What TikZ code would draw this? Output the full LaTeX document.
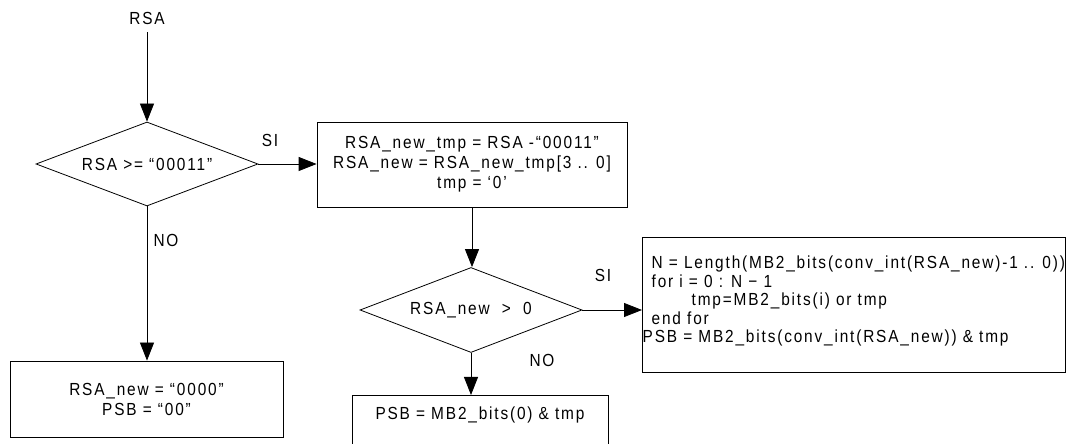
\documentclass[tikz,border=0pt]{standalone}
\usepackage{fontspec}
\setmainfont{Liberation Sans}[FakeStretch=0.88, LetterSpace=10.5]
\usetikzlibrary{shapes.geometric,arrows.meta}
\begin{document}
\begin{tikzpicture}[x=1pt,y=1pt,
  every node/.style={font=\fontsize{17.5}{20}\selectfont},
  flow/.style={draw, line width=0.8pt},
  decision/.style={flow, diamond, aspect=2.6, inner sep=0pt,
    minimum width=222pt, minimum height=84pt},
  stepbox/.style={flow, rectangle, align=center, inner sep=0pt},
  tag/.style={inner sep=0pt},
  link/.style={line width=0.8pt, -{Triangle[length=18pt,width=14pt]}}]
\useasboundingbox (0,0) rectangle (1072,444);

% input and first test
\node[tag, inner ysep=8pt] (rsa) at (147,426) {RSA};
\node[decision] (d1) at (147,280) {RSA >= “00011”};

% subtract and truncate
\node[stepbox, minimum width=310pt, minimum height=85pt] (b1) at (472,279.5)
  {RSA\_new\_tmp = RSA -“00011”\\RSA\_new = RSA\_new\_tmp[3 .. 0]\\tmp = ‘0’};

% second test
\node[decision, minimum height=85pt] (d2) at (471,134) {RSA\_new \ > \ 0};

% loop block
\node[flow, rectangle, anchor=north west, minimum width=423pt, minimum height=135pt,
  inner sep=0pt] (b3) at (642,207) {};
\node[tag, anchor=north west, align=left,
  font=\fontsize{17.5}{18.5}\selectfont] (b3txt) at ([xshift=0.5pt,yshift=-19pt]b3.north west)
  {\hspace*{9pt}N = Length(MB2\_bits(conv\_int(RSA\_new)-1 .. 0))\\
   \hspace*{9pt}for i = 0 : N − 1\\
   \hspace*{49pt}tmp=MB2\_bits(i) or tmp\\
   \hspace*{9pt}end for\\
   PSB = MB2\_bits(conv\_int(RSA\_new)) \& tmp};

% zero-value result
\node[stepbox, anchor=north, minimum width=256pt, text height=24pt, text depth=45pt]
  (b2) at (480,49) {PSB = MB2\_bits(0) \& tmp};

% below-threshold result
\node[stepbox, minimum width=273pt, minimum height=76pt] (b4) at (146.5,45)
  {RSA\_new = “0000”\\PSB = “00”};

% branch labels
\node[tag] (si1) at (270,304) {SI};
\node[tag] (no1) at (166,204) {NO};
\node[tag] (si2) at (603,169) {SI};
\node[tag] (no2) at (542,84) {NO};

% connectors
\draw[link] (rsa.south) -- (d1.north);
\draw[link] (d1.east) -- (d1.east -| b1.west);
\draw[link] (d1.south) -- (d1.south |- b4.north);
\draw[link] (b1.south) -- (b1.south |- d2.north);
\draw[link] (d2.east) -- (d2.east -| b3.west);
\draw[link] (d2.south) -- (d2.south |- b2.north);
\end{tikzpicture}
\end{document}
